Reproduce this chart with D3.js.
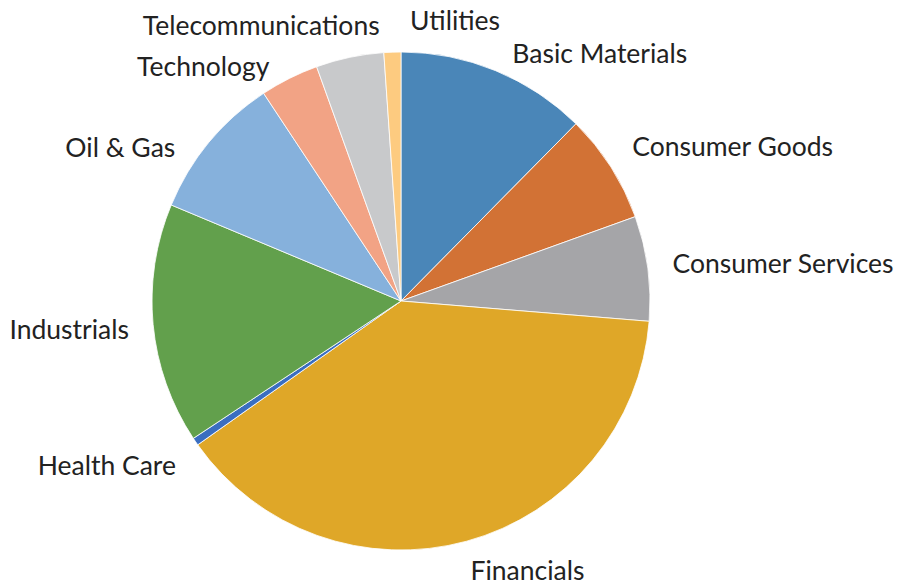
<!DOCTYPE html>
<html>
<head>
<meta charset="utf-8">
<script src="https://cdn.jsdelivr.net/npm/d3@7"></script>
<style>
  body { margin: 0; background: #fff; }
  text { font-family: Lato, "Open Sans", sans-serif; font-size: 26.5px; fill: #222; }
</style>
</head>
<body>
<div id="chart"></div>
<script>
//Datos
const sectors = ['Basic Materials', 'Consumer Goods', 'Consumer Services', 'Financials', 'Health Care',
    'Industrials', 'Oil & Gas', 'Technology', 'Telecommunications', 'Utilities'];
const shares = [12.4, 7.1, 6.8, 38.9, 0.5, 15.6, 9.4, 3.8, 4.4, 1.1];
const colors = ['#4A86B8', '#D27235', '#A5A5A8', '#DFA728', '#3A6EC0',
    '#62A04C', '#86B1DC', '#F2A385', '#C8C9CB', '#FDCB80'];

//Colocación de etiquetas (ángulo en grados, distancia al centro)
const labelPos = [[38.7, 318], [65, 366], [84.3, 384], [154.8, 297], [240.8, 337],
    [265.2, 333], [298.7, 320], [319.9, 307], [333.1, 309], [10.9, 286]];

let width = 897, height = 585,
    cx = 401, cy = 301, radius = 249;

let svg = d3.select('#chart')
    .append('svg')
        .attr('width', width)
        .attr('height', height)
    .append('g')
        .attr('transform', 'translate(' + cx + ',' + cy + ')');

let data = sectors.map(function(d, i) { return {name: d, value: shares[i], color: colors[i], pos: labelPos[i]}; });

let pie = d3.pie()
    .sort(null)
    .value(function(d) { return d.value; });

let arc = d3.arc()
    .innerRadius(0)
    .outerRadius(radius);

svg.selectAll('path')
    .data(pie(data))
    .enter()
    .append('path')
    .attr('d', arc)
    .attr('fill', function(d) { return d.data.color; })
    .attr('stroke', '#fff')
    .attr('stroke-width', 0.8);

svg.selectAll('.label')
    .data(data)
    .enter()
    .append('text')
    .attr('class', 'label')
    .attr('x', function(d) { return d.pos[1] * Math.sin(d.pos[0] * Math.PI / 180); })
    .attr('y', function(d) { return -d.pos[1] * Math.cos(d.pos[0] * Math.PI / 180); })
    .attr('text-anchor', 'middle')
    .attr('dominant-baseline', 'central')
    .text(function(d) { return d.name; });
</script>
</body>
</html>
